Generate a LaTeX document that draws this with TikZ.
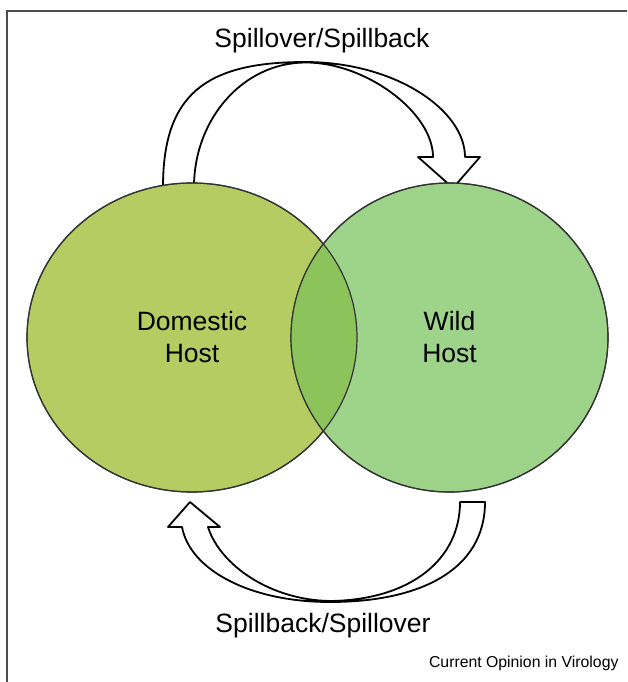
\documentclass[tikz,border=0pt]{standalone}
\usepackage{fontspec}
\setmainfont{Liberation Sans}
\usetikzlibrary{shapes.geometric}
\definecolor{domgreen}{RGB}{181,204,98}
\definecolor{wildgreen}{RGB}{157,212,138}
\definecolor{lensgreen}{RGB}{140,195,90}
\definecolor{framegray}{RGB}{77,77,77}

\begin{document}
\begin{tikzpicture}[x=1pt, y=-1pt,
  host/.style = {draw=black!80, line width=1.2pt, ellipse, inner sep=0pt, minimum height=309pt},
  hostlabel/.style = {align=center, font=\fontsize{26.5}{32}\selectfont},
  flow/.style = {draw=black, line width=1.8pt, fill=white, line join=round},
  caption/.style = {font=\fontsize{26.5}{32}\selectfont}]
    \useasboundingbox (0,0) rectangle (627,682);
    \draw[framegray, line width=1.8pt] (7,682) -- (7,11) -- (627,11);
    % curved arrows
    \draw[flow] (163,187) .. controls (163,95) and (205,62) .. (305,62)
        .. controls (395,62) and (465,110) .. (465,157)
        -- (480,157) -- (453,188) -- (418,157) -- (433,157)
        .. controls (433,112) and (365,62) .. (305,62.5)
        .. controls (242,63) and (194,120) .. (194,187) -- cycle;
    \draw[flow] (485,502) .. controls (485,570) and (420,602) .. (330,602)
        .. controls (250,602) and (190,570) .. (182,527)
        -- (168,527) -- (190,502) -- (220,527) -- (208,527)
        .. controls (220,565) and (270,600) .. (330,601)
        .. controls (410,600) and (460,560) .. (460,502) -- cycle;
    % hosts
    \node[host, fill=domgreen, minimum width=330pt] (dom) at (192,337.5) {};
    \node[host, fill=wildgreen, minimum width=317pt] (wild) at (449.5,337.5) {};
    \begin{scope}
        \clip (192,337.5) ellipse [x radius=165, y radius=154.5];
        \fill[lensgreen] (449.5,337.5) ellipse [x radius=158.5, y radius=154.5];
    \end{scope}
    \draw[black!80, line width=1.2pt] (192,337.5) ellipse [x radius=165, y radius=154.5];
    \draw[black!80, line width=1.2pt] (449.5,337.5) ellipse [x radius=158.5, y radius=154.5];
    \node[hostlabel] (domtext) at (dom.center) {Domestic\\Host};
    \node[hostlabel] (wildtext) at (wild.center) {Wild\\Host};
    % labels
    \node[caption] (toplabel) at (322,41) {Spillover/Spillback};
    \node[caption] (bottomlabel) at (323,626) {Spillback/Spillover};
    \node[font=\fontsize{15.8}{19}\selectfont, anchor=east] (credit) at (622,663) {Current Opinion in Virology};
\end{tikzpicture}
\end{document}
